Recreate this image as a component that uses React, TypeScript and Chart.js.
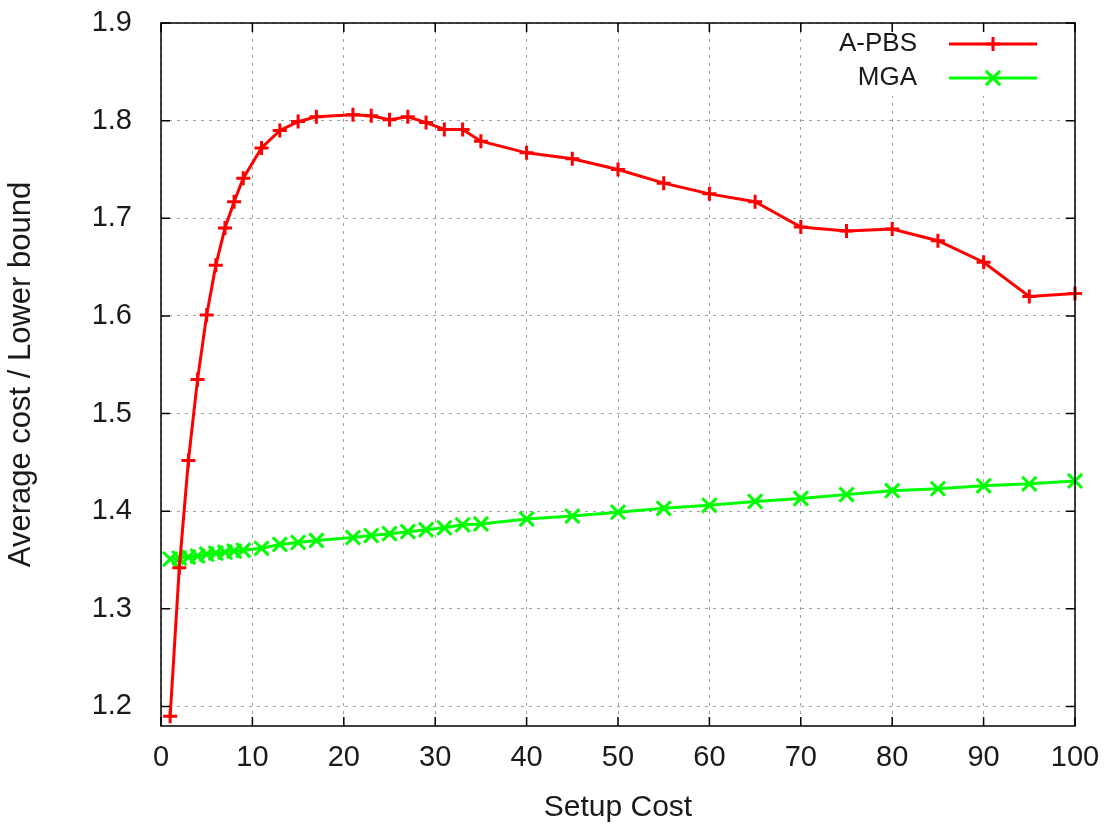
import React, { useEffect, useRef } from 'react';
import { Chart, registerables } from 'chart.js';

Chart.register(...registerables);

// ---- data ----
const setupCost = [1, 2, 3, 4, 5, 6, 7, 8, 9, 11, 13, 15, 17, 21, 23, 25, 27, 29, 31, 33, 35, 40, 45, 50, 55, 60, 65, 70, 75, 80, 85, 90, 95, 100];
const apbs = [1.19, 1.342, 1.452, 1.535, 1.601, 1.652, 1.690, 1.717, 1.741, 1.772, 1.790, 1.799, 1.804, 1.806, 1.805, 1.801, 1.804, 1.798, 1.791, 1.791, 1.779, 1.767, 1.761, 1.750, 1.736, 1.725, 1.717, 1.691, 1.687, 1.689, 1.677, 1.655, 1.620, 1.623];
const mga = [1.351, 1.352, 1.353, 1.354, 1.356, 1.357, 1.358, 1.359, 1.360, 1.362, 1.366, 1.368, 1.370, 1.373, 1.375, 1.377, 1.379, 1.381, 1.383, 1.386, 1.387, 1.392, 1.395, 1.399, 1.403, 1.406, 1.410, 1.413, 1.417, 1.421, 1.423, 1.426, 1.428, 1.431];
const xTicks = [0, 10, 20, 30, 40, 50, 60, 70, 80, 90, 100];
const yTicks = [1.2, 1.3, 1.4, 1.5, 1.6, 1.7, 1.8, 1.9];
const seriesLabels = ['A-PBS', 'MGA'];
const seriesColors = ['#ff0000', '#00ff00'];
const xTitle = 'Setup Cost';
const yTitle = 'Average cost / Lower bound';

const W = 1107;
const H = 828;
const FONT = '"Liberation Sans", Arial, sans-serif';
const TEXT = '#1a1a1a';

function drawMarker(ctx: CanvasRenderingContext2D, style: string, x: number, y: number, r: number) {
  ctx.beginPath();
  if (style === 'cross') {
    ctx.moveTo(x - r, y); ctx.lineTo(x + r, y);
    ctx.moveTo(x, y - r); ctx.lineTo(x, y + r);
  } else {
    const d = r * Math.SQRT1_2;
    ctx.moveTo(x - d, y - d); ctx.lineTo(x + d, y + d);
    ctx.moveTo(x - d, y + d); ctx.lineTo(x + d, y - d);
  }
  ctx.stroke();
}

const gnuplotPlugin = {
  id: 'gnuplotLook',
  beforeDatasetsDraw(chart: any) {
    const { ctx, chartArea } = chart;
    ctx.save();
    ctx.fillStyle = '#ffffff';
    ctx.fillRect(835, chartArea.top + 1, chartArea.right - 836, 72);
    ctx.restore();
  },
  afterDraw(chart: any) {
    const { ctx, chartArea } = chart;
    const { left, right, top, bottom } = chartArea;
    const xs = chart.scales.x;
    const ys = chart.scales.y;
    ctx.save();
    // legend (key)
    ctx.font = `26px ${FONT}`;
    ctx.textAlign = 'right';
    ctx.textBaseline = 'middle';
    chart.data.datasets.forEach((ds: any, i: number) => {
      const y = 44 + i * 34;
      ctx.fillStyle = TEXT;
      ctx.fillText(ds.label, 917, y);
      ctx.strokeStyle = ds.borderColor;
      ctx.lineWidth = 3;
      ctx.beginPath();
      ctx.moveTo(949, y);
      ctx.lineTo(1037, y);
      ctx.stroke();
      ctx.lineWidth = ds.pointBorderWidth;
      drawMarker(ctx, ds.pointStyle, 993, y, ds.pointRadius);
    });
    // frame
    ctx.strokeStyle = '#000000';
    ctx.lineWidth = 1.5;
    ctx.strokeRect(left, top, right - left, bottom - top);
    // inward ticks
    ctx.beginPath();
    xTicks.forEach((v) => {
      const px = xs.getPixelForValue(v);
      ctx.moveTo(px, bottom); ctx.lineTo(px, bottom - 9);
      ctx.moveTo(px, top); ctx.lineTo(px, top + 9);
    });
    yTicks.forEach((v) => {
      const py = ys.getPixelForValue(v);
      ctx.moveTo(left, py); ctx.lineTo(left + 9, py);
      ctx.moveTo(right, py); ctx.lineTo(right - 9, py);
    });
    ctx.stroke();
    ctx.restore();
  },
};

export default function App() {
  const canvasRef = useRef<HTMLCanvasElement | null>(null);

  useEffect(() => {
    const canvas = canvasRef.current;
    if (!canvas) return;
    const chart = new Chart(canvas, {
      type: 'line',
      data: {
        datasets: [
          {
            label: seriesLabels[0],
            data: setupCost.map((x, i) => ({ x, y: apbs[i] })),
            borderColor: seriesColors[0],
            backgroundColor: seriesColors[0],
            borderWidth: 3,
            pointStyle: 'cross',
            pointRadius: 7,
            pointBorderWidth: 3,
            pointBorderColor: seriesColors[0],
            tension: 0,
            clip: false as any,
          },
          {
            label: seriesLabels[1],
            data: setupCost.map((x, i) => ({ x, y: mga[i] })),
            borderColor: seriesColors[1],
            backgroundColor: seriesColors[1],
            borderWidth: 3,
            pointStyle: 'crossRot',
            pointRadius: 10,
            pointBorderWidth: 3,
            pointBorderColor: seriesColors[1],
            tension: 0,
            clip: false as any,
          },
        ],
      },
      options: {
        responsive: false,
        animation: false,
        events: [],
        layout: { padding: { top: 23, right: 32, left: 0, bottom: 0 } },
        plugins: {
          legend: { display: false },
          tooltip: { enabled: false },
          title: { display: false },
        },
        scales: {
          x: {
            type: 'linear',
            min: 0,
            max: 100,
            afterBuildTicks: (scale: any) => {
              scale.ticks = xTicks.map((v) => ({ value: v }));
            },
            afterFit: (scale: any) => {
              scale.height = 102;
              scale.paddingLeft = 0;
              scale.paddingRight = 0;
            },
            grid: { color: '#a0a0a0', lineWidth: 1, drawTicks: false },
            border: { display: false, dash: [3, 5] },
            ticks: {
              autoSkip: false,
              maxRotation: 0,
              padding: 15,
              color: TEXT,
              font: { family: FONT, size: 29 },
              callback: (v: any) => String(v),
            },
            title: {
              display: true,
              text: xTitle,
              color: TEXT,
              font: { family: FONT, size: 30 },
              padding: { top: 0, bottom: 2 },
            },
          },
          y: {
            type: 'linear',
            min: 1.18,
            max: 1.9,
            afterBuildTicks: (scale: any) => {
              scale.ticks = yTicks.map((v) => ({ value: v }));
            },
            afterFit: (scale: any) => {
              scale.width = 161;
              scale.paddingTop = 0;
              scale.paddingBottom = 0;
            },
            grid: { color: '#a0a0a0', lineWidth: 1, drawTicks: false },
            border: { display: false, dash: [3, 5] },
            ticks: {
              padding: 29,
              color: TEXT,
              font: { family: FONT, size: 29 },
              callback: (v: any) => Number(v).toFixed(1),
            },
            title: {
              display: true,
              text: yTitle,
              color: TEXT,
              font: { family: FONT, size: 31 },
              padding: { top: 3, bottom: 0 },
            },
          },
        },
      },
      plugins: [gnuplotPlugin],
    } as any);
    return () => chart.destroy();
  }, []);

  return (
    <div style={{ position: 'fixed', left: 0, top: 0, width: W, height: H, background: '#ffffff' }}>
      <canvas ref={canvasRef} width={W} height={H} style={{ display: 'block', width: W, height: H }} />
    </div>
  );
}
